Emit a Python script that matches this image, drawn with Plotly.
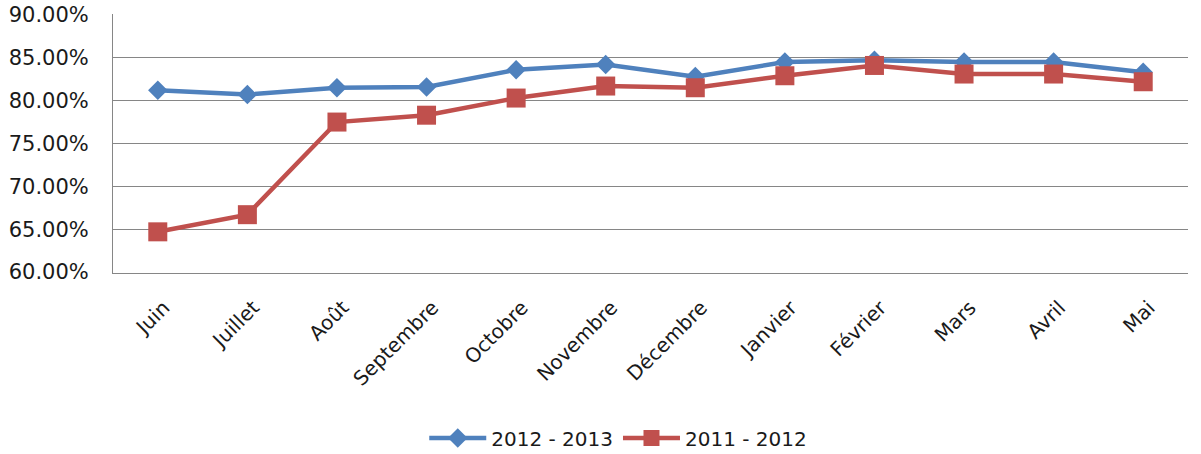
import plotly.graph_objects as go

months = ["Juin", "Juillet", "Août", "Septembre", "Octobre", "Novembre",
          "Décembre", "Janvier", "Février", "Mars", "Avril", "Mai"]
s_2012_2013 = [81.2, 80.7, 81.5, 81.6, 83.6, 84.2, 82.8, 84.5, 84.7, 84.5, 84.5, 83.3]
s_2011_2012 = [64.7, 66.7, 77.5, 78.3, 80.3, 81.7, 81.5, 82.9, 84.1, 83.1, 83.1, 82.2]
y_ticks = [60, 65, 70, 75, 80, 85, 90]
y_labels = [f"{v:.2f}%" for v in y_ticks]

BLUE = "#4F81BD"
RED = "#C0504D"
FONT = "DejaVu Sans"
TXT = "#1a1a1a"

fig = go.Figure()
fig.add_trace(go.Scatter(
    x=months, y=s_2012_2013, name="2012 - 2013", mode="lines+markers",
    line=dict(color=BLUE, width=4.5),
    marker=dict(symbol="diamond", size=15, color=BLUE),
))
fig.add_trace(go.Scatter(
    x=months, y=s_2011_2012, name="2011 - 2012", mode="lines+markers",
    line=dict(color=RED, width=4.5),
    marker=dict(symbol="square", size=19, color=RED),
))

fig.update_layout(
    width=1201, height=454,
    margin=dict(l=113, r=13, t=14, b=181, autoexpand=False),
    paper_bgcolor="white", plot_bgcolor="white",
    font=dict(family=FONT, size=20, color=TXT),
    showlegend=True,
    legend=dict(orientation="h", x=0.47, xanchor="center", y=-0.637, yanchor="middle",
                font=dict(family=FONT, size=20, color=TXT), itemwidth=57,
                bgcolor="rgba(0,0,0,0)"),
    xaxis=dict(
        type="category", range=[-0.5, 11.5], tickangle=-45, automargin=False,
        showgrid=False, showline=True, linecolor="#868686", linewidth=1,
        ticks="", tickfont=dict(family=FONT, size=20, color=TXT),
        ticklabelstandoff=14, ticklabelshift=6,
    ),
    yaxis=dict(
        range=[59.9, 90.1], tickvals=y_ticks, ticktext=y_labels, automargin=False,
        showgrid=True, gridcolor="#868686", gridwidth=1,
        showline=True, linecolor="#868686", linewidth=1,
        zeroline=False, ticks="",
        tickfont=dict(family=FONT, size=21, color=TXT),
        ticklabelstandoff=19,
    ),
)

fig.write_html("out.html", config={"displayModeBar": False},
               post_script="document.body.style.margin='0';")
